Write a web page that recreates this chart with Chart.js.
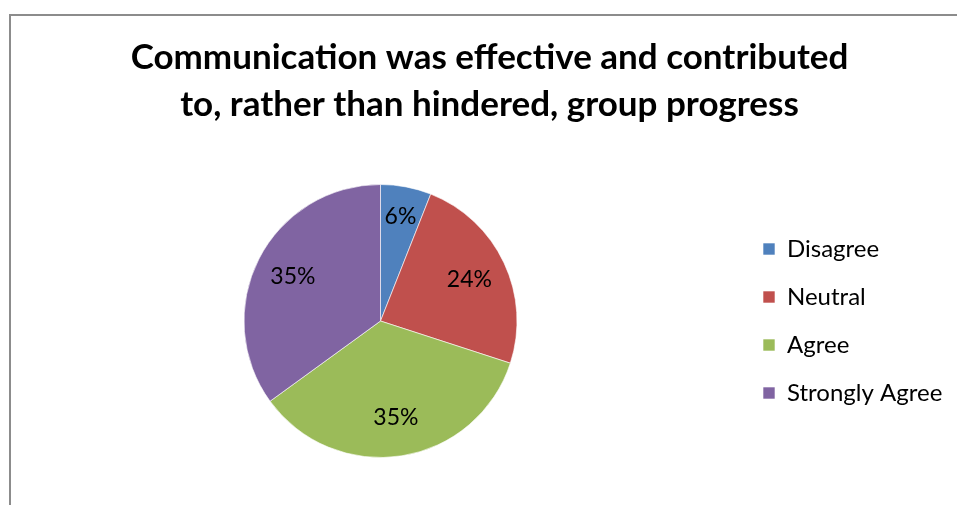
<!DOCTYPE html>
<html>
<head>
<meta charset="utf-8">
<script src="https://cdn.jsdelivr.net/npm/chart.js@4/dist/chart.umd.min.js"></script>
<style>
  html, body { margin: 0; padding: 0; background: #fff; overflow: hidden; }
  #frame {
    position: absolute; left: 9px; top: 14px;
    width: 1000px; height: 600px;
    border: 2px solid #8c8c8c;
  }
  #salesChart { position: absolute; left: 0; top: 0; }
</style>
</head>
<body>
<div id="frame"></div>
<canvas id="salesChart" width="957" height="505"></canvas>
<script>
// Chart data
const categories = ["Disagree", "Neutral", "Agree", "Strongly Agree"];
const percents = [6, 24, 35, 35];
const sliceColors = ["#4F81BD", "#C0504D", "#9BBB59", "#8064A2"];
const titleLines = ["Communication was effective and contributed", "to, rather than hindered, group progress"];

// draws the % labels inside each slice
const sliceLabels = {
  id: "sliceLabels",
  afterDatasetsDraw(chart) {
    const ctx = chart.ctx;
    const meta = chart.getDatasetMeta(0);
    ctx.save();
    ctx.font = "23px Lato";
    ctx.fillStyle = "#000";
    ctx.textAlign = "center";
    ctx.textBaseline = "middle";
    meta.data.forEach((arc, i) => {
      const p = arc.getProps(["x", "y", "startAngle", "endAngle", "outerRadius"]);
      const mid = (p.startAngle + p.endAngle) / 2;
      const r = p.outerRadius * (i === 0 ? 0.78 : 0.72);
      ctx.fillText(percents[i] + "%", p.x + Math.cos(mid) * r, p.y + Math.sin(mid) * r);
    });
    ctx.restore();
  },
};

// widen the legend box so the pie sits further left, like the original
const legendWidth = {
  id: "legendWidth",
  beforeInit(chart) {
    const fit = chart.legend.fit;
    chart.legend.fit = function () {
      fit.call(this);
      this.width = 218;
    };
  },
};

const ctx = document.getElementById("salesChart").getContext("2d");

const chart = new Chart(ctx, {
  type: "pie",
  data: {
    labels: categories,
    datasets: [
      {
        data: percents,
        backgroundColor: sliceColors,
        borderColor: "rgba(255,255,255,0.6)",
        borderWidth: 1,
      },
    ],
  },
  options: {
    responsive: false,
    animation: false,
    layout: { padding: { left: 22, right: 0, top: 0, bottom: 47 } },
    plugins: {
      tooltip: { enabled: false },
      title: {
        display: true,
        text: titleLines,
        color: "#000",
        font: { family: "Lato", size: 35, weight: "bold", lineHeight: 47 / 35 },
        padding: { top: 34, bottom: 56 },
      },
      legend: {
        display: true,
        position: "right",
        fullSize: false,
        labels: {
          color: "#000",
          font: { family: "Lato", size: 24 },
          boxWidth: 12,
          boxHeight: 12,
          padding: 24,
        },
      },
    },
  },
  plugins: [sliceLabels, legendWidth],
});
</script>
</body>
</html>
